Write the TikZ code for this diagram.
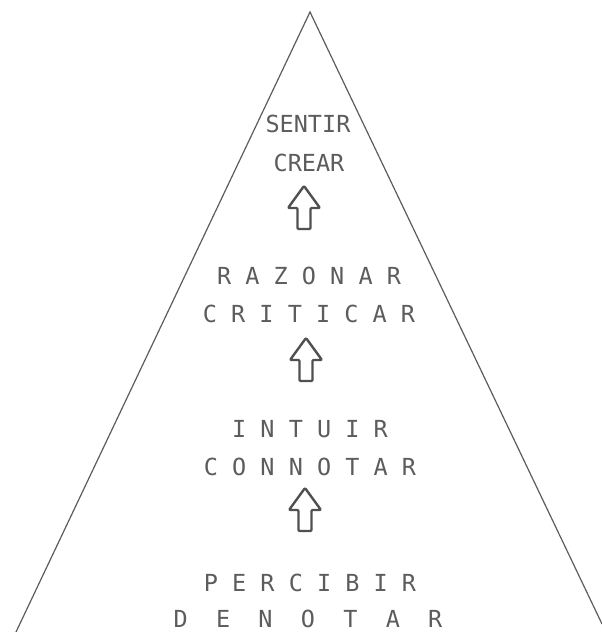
\documentclass[tikz,border=0pt]{standalone}
\usepackage{fontspec}
\setmonofont{DejaVu Sans Mono}
\usetikzlibrary{positioning}
\definecolor{pyrgray}{HTML}{5C5C5C}
\definecolor{pyrink}{HTML}{505050}

\begin{document}
\begin{tikzpicture}[x=1pt, y=-1pt,
    level/.style={text=pyrgray, font=\ttfamily\fontsize{23.5}{24}\selectfont, inner sep=0pt},
    side/.style={draw=pyrgray, line width=1.2pt},
    arrowline/.style={draw=pyrink, line width=2.4pt, line join=round, rounded corners=1pt},
    uparrow/.pic={\draw[arrowline] (0,0) -- (16,22) -- (6.5,22) -- (6.5,43) -- (-6.5,43) -- (-6.5,22) -- (-16,22) -- cycle;}
  ]
    \useasboundingbox (0,0) rectangle (602,632);
    % pyramid
    \coordinate (apex) at (310,12);
    \coordinate (baseL) at (16,632);
    \coordinate (baseR) at (602,624);
    \draw[side] (baseL) -- (apex) -- (baseR);
    % levels
    \node[level] (sentir) at (308,124) {SENTIR};
    \node[level] (crear) at (309,163) {CREAR};
    \node[level] (razonar) at (309,276) {R A Z O N A R};
    \node[level] (criticar) at (309,314) {C R I T I C A R};
    \node[level] (intuir) at (310,429) {I N T U I R};
    \node[level] (connotar) at (310,467) {C O N N O T A R};
    \node[level] (percibir) at (310,583) {P E R C I B I R};
    \node[level] (denotar) at (308,619) {D~~E~~N~~O~~T~~A~~R};
    % arrows between levels
    \pic at (304,186) {uparrow};
    \pic at (306,338) {uparrow};
    \pic at (305,488) {uparrow};
\end{tikzpicture}
\end{document}
